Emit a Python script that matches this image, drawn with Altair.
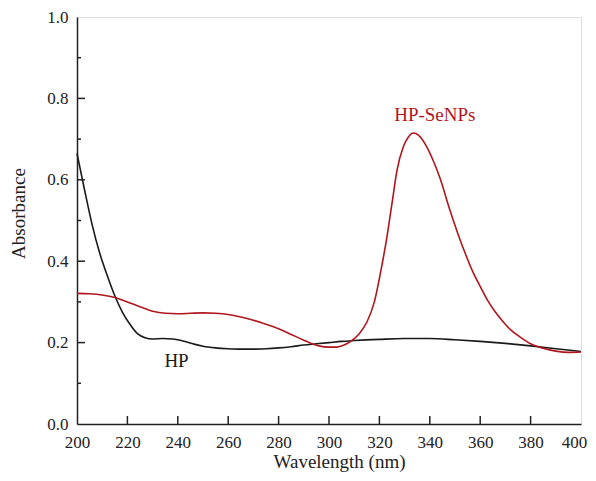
import altair as alt
import pandas as pd

# HP (black) curve
hp_x = [200, 203, 206, 209, 212, 215, 218, 221, 224, 227, 230, 234, 238, 242, 246, 250,
        255, 260, 265, 270, 275, 280, 285, 290, 295, 300, 305, 310, 320, 330, 340, 350,
        360, 370, 380, 390, 400]
hp_y = [0.665, 0.575, 0.49, 0.42, 0.365, 0.315, 0.275, 0.245, 0.222, 0.212, 0.209, 0.210,
        0.209, 0.204, 0.197, 0.191, 0.187, 0.185, 0.184, 0.184, 0.185, 0.187, 0.190, 0.194,
        0.197, 0.200, 0.203, 0.205, 0.208, 0.210, 0.210, 0.207, 0.203, 0.198, 0.192, 0.185,
        0.178]

# HP-SeNPs (red) curve
se_x = [200, 205, 210, 215, 220, 225, 230, 235, 240, 245, 250, 255, 260, 265, 270, 275,
        280, 285, 290, 293, 296, 300, 303, 306, 309, 312, 315, 318, 321, 323, 325, 327,
        329.5, 331.5, 333.5, 335.5, 338.8, 341.5, 344, 348, 351, 354, 357, 360, 363, 366,
        369, 372, 376, 380, 385, 390, 395, 400]
se_y = [0.321, 0.320, 0.317, 0.311, 0.300, 0.288, 0.277, 0.272, 0.271, 0.272, 0.273, 0.272,
        0.269, 0.263, 0.255, 0.245, 0.234, 0.220, 0.206, 0.198, 0.192, 0.189, 0.189, 0.194,
        0.205, 0.222, 0.250, 0.300, 0.390, 0.460, 0.542, 0.624, 0.681, 0.705, 0.715, 0.710,
        0.681, 0.645, 0.605, 0.525, 0.470, 0.420, 0.375, 0.338, 0.303, 0.275, 0.252, 0.232,
        0.213, 0.197, 0.186, 0.179, 0.176, 0.177]

series_names = ["HP", "HP-SeNPs"]
series_colors = ["#1a1a1a", "#b0161e"]

label_text = ["HP", "HP-SeNPs"]
label_x = [239.5, 342.0]
label_y = [0.155, 0.760]

x_labels = [200, 220, 240, 260, 280, 300, 320, 340, 360, 380, 400]
y_labels = [0.0, 0.2, 0.4, 0.6, 0.8, 1.0]
x_ticks = [220, 240, 260, 280, 300, 320, 340, 360, 380]
y_major = [0.2, 0.4, 0.6, 0.8]
y_minor = [0.1, 0.3, 0.5, 0.7, 0.9]

W, H = 504, 407
FONT = "Liberation Serif"
INK = "#222222"

df = pd.concat([
    pd.DataFrame({"wl": hp_x, "abs": hp_y, "series": "HP"}),
    pd.DataFrame({"wl": se_x, "abs": se_y, "series": "HP-SeNPs"}),
])
labels = pd.DataFrame({"wl": label_x, "abs": label_y, "text": label_text, "series": series_names})

xscale = alt.Scale(domain=[200, 400], nice=False, zero=False)
yscale = alt.Scale(domain=[0, 1.0], nice=False)

xaxis = alt.Axis(values=x_labels, ticks=False, grid=False, labelPadding=10,
                 labelFontSize=17, labelFont=FONT, labelColor=INK, domainColor=INK,
                 domainWidth=1.5, labelFlush=False,
                 labelOffset=alt.condition("datum.value == 400", alt.value(-7), alt.value(0)),
                 title="Wavelength (nm)", titleFont=FONT, titleFontSize=19,
                 titleFontWeight="normal", titleColor=INK, titleBaseline="middle",
                 titleAlign="center", titleX=262, titleY=37)
yaxis = alt.Axis(values=y_labels, format=".1f", ticks=False, grid=False,
                 labelPadding=9, labelFontSize=17, labelFont=FONT, labelColor=INK,
                 domainColor=INK, domainWidth=1.5, labelFlush=False,
                 title="Absorbance", titleFont=FONT, titleFontSize=19,
                 titleFontWeight="normal", titleColor=INK, titleBaseline="middle",
                 titleAlign="center", titleAngle=270, titleX=-59, titleY=196)

color = alt.Color("series:N", scale=alt.Scale(domain=series_names, range=series_colors), legend=None)

lines = alt.Chart(df).mark_line(strokeWidth=1.6, interpolate="monotone").encode(
    x=alt.X("wl:Q", scale=xscale, axis=xaxis),
    y=alt.Y("abs:Q", scale=yscale, axis=yaxis),
    color=color,
    detail="series:N",
)

text = alt.Chart(labels).mark_text(font=FONT, fontSize=19, align="center", baseline="middle").encode(
    x=alt.X("wl:Q", scale=xscale),
    y=alt.Y("abs:Q", scale=yscale),
    text="text:N",
    color=color,
)

xt = alt.Chart(pd.DataFrame({"v": x_ticks})).mark_rule(color=INK, strokeWidth=1.5).encode(
    x=alt.X("v:Q", scale=xscale), y=alt.value(H), y2=alt.value(H - 8))
ytM = alt.Chart(pd.DataFrame({"v": y_major})).mark_rule(color=INK, strokeWidth=1.5).encode(
    y=alt.Y("v:Q", scale=yscale), x=alt.value(0), x2=alt.value(8))
ytm = alt.Chart(pd.DataFrame({"v": y_minor})).mark_rule(color=INK, strokeWidth=1.5).encode(
    y=alt.Y("v:Q", scale=yscale), x=alt.value(0), x2=alt.value(4))

chart = alt.layer(lines, text, xt, ytM, ytm).properties(
    width=W, height=H,
    autosize=alt.AutoSizeParams(type="none"),
    padding={"left": 69, "top": 9, "right": 7, "bottom": 49},
).configure_view(stroke="#666", strokeWidth=1.5).configure(background="white")

chart.save("out.html", embed_options={"renderer": "svg", "actions": False})
